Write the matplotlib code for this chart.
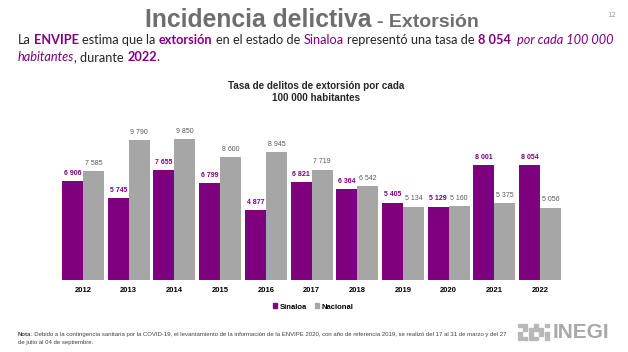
import matplotlib
matplotlib.use('Agg')
import matplotlib.pyplot as plt
import numpy as np
from matplotlib.patches import Rectangle, Patch

years = ['2012', '2013', '2014', '2015', '2016', '2017', '2018', '2019', '2020', '2021', '2022']
sinaloa = [6906, 5745, 7655, 6799, 4877, 6821, 6364, 5405, 5129, 8001, 8054]
nacional = [7585, 9790, 9850, 8600, 8945, 7719, 6542, 5134, 5160, 5375, 5056]
series_names = ['Sinaloa', 'Nacional']

PURPLE = '#7F007F'
GRAY = '#A6A6A6'
W, H = 628, 352

fig = plt.figure(figsize=(W / 100, H / 100), dpi=100)
fig.patch.set_facecolor('white')


def fx(px):
    return px / W


def fy(py):
    return 1 - py / H


renderer = fig.canvas.get_renderer()


def measure(txt, **kw):
    t = fig.text(0, 0, txt, **kw)
    bb = t.get_window_extent(renderer=renderer)
    t.remove()
    return bb.width


def rich(x_px, y_px, parts, base, ha='left'):
    items = []
    total = 0.0
    for txt, st in parts:
        kw = dict(base)
        kw.update(st)
        sw = measure('x x', **kw) - measure('xx', **kw)
        lead = len(txt) - len(txt.lstrip(' '))
        trail = len(txt) - len(txt.rstrip(' '))
        core = txt.strip(' ')
        w = measure(core, **kw) if core else 0
        items.append((lead * sw, core, kw, w, trail * sw))
        total += lead * sw + w + trail * sw
    x = x_px if ha == 'left' else x_px - total / 2
    for lead, core, kw, w, trail in items:
        x += lead
        if core:
            fig.text(fx(x), fy(y_px), core, ha='left', va='baseline', **kw)
        x += w + trail


# Main title
rich(312, 27, [('Incidencia delictiva', dict(fontsize=17.8)),
               (' - Extorsión', dict(fontsize=14))],
     dict(family='Liberation Sans', fontweight='bold', color='#6E6E6E'),
     ha='center')
fig.text(fx(612), fy(17), '12', fontsize=5, color='#A0A0A0', ha='center', va='baseline')

# Subtitle
sub = dict(family=['Lato', 'DejaVu Sans'], fontsize=9.15, color='#262626')
B = dict(fontweight='bold', color=PURPLE)
rich(18, 44, [('La ', {}), ('ENVIPE', B), (' estima que la ', {}), ('extorsión', B),
              (' en el estado de ', {}), ('Sinaloa', dict(color=PURPLE)),
              (' representó una tasa de ', {}), ('8 054', B), (' ', {}),
              ('por cada 100 000', dict(style='italic', color=PURPLE))], sub)
rich(18, 61, [('habitantes', dict(style='italic', color=PURPLE)), (', durante ', {}),
              ('2022', B), ('.', {})], sub)

# Chart title
fig.text(fx(316), fy(92), 'Tasa de delitos de extorsión por cada\n100 000 habitantes',
         ha='center', va='center', fontsize=7.1, fontweight='bold', color='#262626',
         family='Liberation Sans', linespacing=1.3)

# Axes
ax = fig.add_axes([fx(60.2), fy(280), fx(563 - 60.2), (280 - 130) / H])
x = np.arange(len(years))
w = 0.46
b1 = ax.bar(x - w / 2, sinaloa, w, color=PURPLE, label=series_names[0])
b2 = ax.bar(x + w / 2, nacional, w, color=GRAY, label=series_names[1])
ax.set_xlim(-0.5, 10.5)
ax.set_ylim(0, 10480)
for s in ax.spines.values():
    s.set_visible(False)
ax.set_yticks([])
ax.set_xticks(x, years)
for lab in ax.get_xticklabels():
    lab.set_fontweight('bold')
    lab.set_fontsize(5.5)
    lab.set_family('Liberation Sans')
ax.tick_params(axis='x', length=0, pad=5)


def fmt(v):
    return f'{v:,}'.replace(',', ' ')


ax.bar_label(b1, labels=[fmt(v) for v in sinaloa], padding=3, color=PURPLE,
             fontsize=5, fontweight='bold', family='Liberation Sans')
ax.bar_label(b2, labels=[fmt(v) for v in nacional], padding=3, color='#595959',
             fontsize=5, family='Liberation Sans')

# Legend
handles = [Patch(color=PURPLE), Patch(color=GRAY)]
fig.legend(handles, series_names, loc='center', bbox_to_anchor=(fx(313), fy(307)), ncol=2,
           frameon=False, handlelength=0.6, handleheight=0.6, handletextpad=0.3,
           columnspacing=1.0, prop=dict(size=5.5, weight='bold', family='Liberation Sans'))

# Note
note = dict(family='Liberation Sans', fontsize=4.33, color='#404040')
rich(18, 336, [('Nota', dict(fontweight='bold')),
               (': Debido a la contingencia sanitaria por la COVID-19, el levantamiento de la información de la ENVIPE 2020, con año de referencia 2019, se realizó del 17 al 31 de marzo y del 27', {})], note)
rich(18, 344, [('de julio al 04 de septiembre.', {})], note)

# INEGI logo
fig.text(fx(553), fy(338), 'INEGI', fontsize=15, fontweight='bold', color='#A8A8A8',
         family='Liberation Sans', ha='left', va='baseline')
pattern = ['110101', '011110', '101011', '111101']
for r, row in enumerate(pattern):
    for c, ch in enumerate(row):
        if ch == '1':
            fig.patches.append(Rectangle((fx(518 + c * 5.3), fy(324 + r * 4.2 + 3.2)),
                                         fx(4), 3.2 / H, color='#B8B8B8',
                                         transform=fig.transFigure, figure=fig))

fig.savefig('out.png', dpi=100, facecolor='white')
